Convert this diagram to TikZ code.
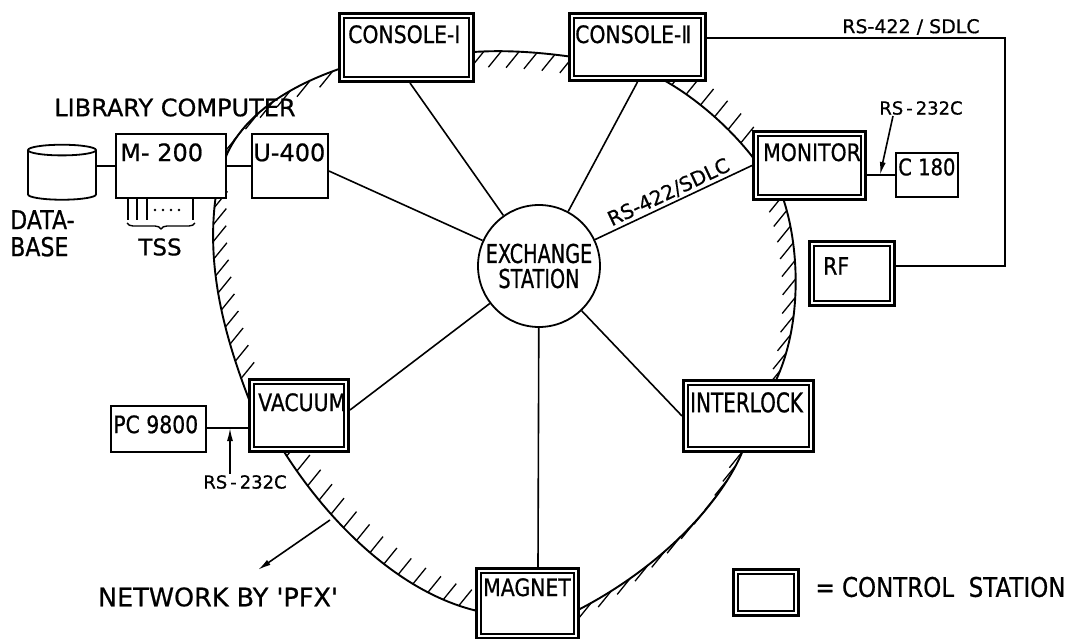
\documentclass[tikz,border=0pt]{standalone}
\usepackage{fontspec}
\setmainfont{DejaVu Sans}[FakeStretch=0.85, FakeBold=0.7]
\newfontfamily\narrowfont{DejaVu Sans}[FakeStretch=0.74, FakeBold=0.7]
\newfontfamily\widefont{DejaVu Sans}[FakeBold=0.7]
\usepackage{tikz}
\usetikzlibrary{shapes,arrows}
\usetikzlibrary{positioning}
\usetikzlibrary{arrows.meta}
\usetikzlibrary{decorations.pathreplacing}

\tikzset{
  station/.style={draw, fill=white, line width=3pt, inner sep=0pt,
    path picture={\draw[line width=1.2pt] ([shift={(4.5pt,-4.5pt)}]path picture bounding box.north west) rectangle ([shift={(-4.5pt,4.5pt)}]path picture bounding box.south east);}},
  unit/.style={draw, fill=white, line width=1.8pt, inner sep=0pt},
  boxtext/.style 2 args={anchor=north west, inner sep=0pt, xshift=#1, yshift=-#2, font=\fontsize{24}{24}\selectfont},
  ring/.style={line width=1.9pt},
  tickdl/.pic={\draw[line width=1.3pt] (0,0) -- (-13,16);},
  tickur/.pic={\draw[line width=1.3pt] (0,0) -- (13,-16);},
  link/.style={line width=1.6pt},
  tip/.style={-{Latex[length=13pt,width=6pt]}},
  small/.style={font=\widefont\fontsize{18}{18}\selectfont, inner sep=1pt}
}

\begin{document}
\begin{tikzpicture}[x=1pt, y=-1pt]
\useasboundingbox (0,0) rectangle (1069,639);

% the PFX ring, segment by segment
\draw[ring] (220,180) .. controls (224,140) and (260,95) .. (345,67)
  foreach \p in {0.05,0.15,...,0.99} {pic[pos=\p]{tickdl}};
\draw[ring] (462,53) .. controls (500,49) and (540,52) .. (580,58)
  foreach \p in {0.04,0.19,...,0.99} {pic[pos=\p]{tickdl}};
\draw[ring] (652,74) .. controls (690,92) and (735,130) .. (762,170)
  foreach \p in {0.05,0.17,...,0.99} {pic[pos=\p]{tickur}};
\draw[ring] (780,190) .. controls (800,240) and (805,330) .. (770,392)
  foreach \p in {0.04,0.125,...,0.99} {pic[pos=\p]{tickdl}};
\draw[ring] (745,445) .. controls (725,500) and (660,570) .. (570,614)
  foreach \p in {0.04,0.12,...,0.99} {pic[pos=\p]{tickdl}};
\draw[ring] (482,612) .. controls (400,595) and (325,520) .. (278,442)
  foreach \p in {0.03,0.095,...,0.99} {pic[pos=\p]{tickur}};
\draw[ring] (250,402) .. controls (222,330) and (205,260) .. (217,188)
  foreach \p in {0.03,0.11,...,0.99} {pic[pos=\p]{tickur}};

% control stations
\node[station, minimum width=134pt, minimum height=68pt, label={[boxtext={10pt}{13pt}]north west:CONSOLE-Ⅰ}] (console1) at (406.5,47.5) {};
\node[station, minimum width=136pt, minimum height=67pt, label={[boxtext={7pt}{13pt}]north west:CONSOLE-Ⅱ}] (console2) at (637.5,47) {};
\node[station, minimum width=112pt, minimum height=68pt, label={[boxtext={11pt}{13pt}]north west:MONITOR}] (monitor) at (809.5,165.5) {};
\node[station, minimum width=85pt, minimum height=64pt, label={[boxtext={15pt}{17pt}]north west:RF}] (rf) at (852,273.5) {};
\node[station, minimum width=130pt, minimum height=71pt, label={[boxtext={8pt}{13pt}, font=\narrowfont\fontsize{27}{27}\selectfont]north west:INTERLOCK}] (interlock) at (748.5,416) {};
\node[station, minimum width=102pt, minimum height=70pt, label={[boxtext={8pt}{11pt}]north west:MAGNET}] (magnet) at (527.5,603.5) {};
\node[station, minimum width=99pt, minimum height=72pt, label={[boxtext={10pt}{15pt}]north west:VACUUM}] (vacuum) at (299,415.5) {};

% plain computers
\node[unit, minimum width=110pt, minimum height=64pt, label={[boxtext={5pt}{10pt}, font=\widefont\fontsize{24}{24}\selectfont]north west:M- 200}] (m200) at (171,166) {};
\node[unit, minimum width=76pt, minimum height=64pt, label={[boxtext={2pt}{10pt}, font=\widefont\fontsize{24}{24}\selectfont]north west:U-400}] (u400) at (290,166) {};
\node[unit, minimum width=62pt, minimum height=44pt, label={[boxtext={3pt}{6pt}, font=\fontsize{23}{23}\selectfont]north west:C 180}] (c180) at (927,175) {};
\node[unit, minimum width=95pt, minimum height=46pt, label={[boxtext={3pt}{10pt}, font=\fontsize{24}{24}\selectfont]north west:PC 9800}] (pc9800) at (158.5,429) {};
\node[cylinder, shape border rotate=90, draw, fill=white, line width=1.8pt, minimum width=68pt, minimum height=55pt, aspect=1.6] (db) at (62,176.5) {};

\node[circle, draw, fill=white, line width=1.8pt, minimum size=122pt, inner sep=0pt, align=center, font=\narrowfont\fontsize{26}{25}\selectfont] (exch) at (539,266) {EXCHANGE\\STATION};

% texts
\node[font=\widefont\fontsize{24}{24}\selectfont] (libtext) at (175,107.5) {LIBRARY COMPUTER};
\node[anchor=north west, inner sep=0pt, align=left, font=\fontsize{26}{27}\selectfont] (dbtext) at (10,210) {DATA-\\BASE};
\node[font=\widefont\fontsize{23}{23}\selectfont] (tss) at (160,247) {TSS};
\node[small, font=\widefont\fontsize{19}{19}\selectfont] (sdlctop) at (911,27) {RS-422 / SDLC};
\node[small] (rs232a) at (921,108) {RS\,-\,232C};
\node[small] (rs232b) at (245,482) {RS\,-\,232C};
\node[font=\widefont\fontsize{25.5}{25.5}\selectfont] (nettext) at (218,597) {NETWORK BY \textquotesingle PFX\textquotesingle};

% legend
\node[station, minimum width=65pt, minimum height=46pt] (legend) at (766,592.5) {};
\node[anchor=west, font=\fontsize{27}{27}\selectfont] (legendtext) at (812,587) {= CONTROL\ \ STATION};

% spokes of the exchange station
\draw[link] (exch) -- ([xshift=3.5pt]console1.south);
\draw[link] (exch) -- (console2.south);
\draw[link] (exch) -- ([yshift=-5pt]u400.east);
\draw[link] (exch) -- ([yshift=5.5pt]vacuum.east);
\draw[link] (exch) -- ([xshift=10.5pt]magnet.north);
\draw[link] (exch) -- (interlock.west);
\draw[link] (exch) -- (monitor.west) node[midway, sloped, above, inner sep=2pt, font=\widefont\fontsize{20}{20}\selectfont] (sdlc) {RS-422/SDLC};

% side links
\coordinate (corner) at (1005,38);
\draw[link] ([yshift=9pt]console2.east) -- (corner) |- ([yshift=7.5pt]rf.east);
\draw[link] (c180.west -| monitor.east) -- (c180.west);
\coordinate (mc) at (880,175);
\draw[link, tip] ([xshift=-28pt]rs232a.south) -- (mc);
\coordinate (pv) at (230,428);
\draw[link] (pv -| pc9800.east) -- (pv -| vacuum.west);
\draw[link, tip] (rs232b.north -| pv) -- (pv);
\draw[link] (m200.west -| db.east) -- (m200.west);
\draw[link] (m200) -- (u400);

% TSS lines
\foreach \x in {128,137,147,193}
  \draw[line width=1.4pt] (m200.south -| \x,0) -- ++(0,21);
\foreach \x in {155,163,171,179}
  \fill (\x,210) circle (1.3pt);
\draw[decorate, decoration={brace, mirror, amplitude=6pt}, line width=1.4pt] (127,223) -- (195,223);

% pointer to the ring
\coordinate (ringpt) at (330,520);
\draw[link, tip] (ringpt) -- ([xshift=40pt, yshift=14pt]nettext.north);

\end{tikzpicture}
\end{document}
